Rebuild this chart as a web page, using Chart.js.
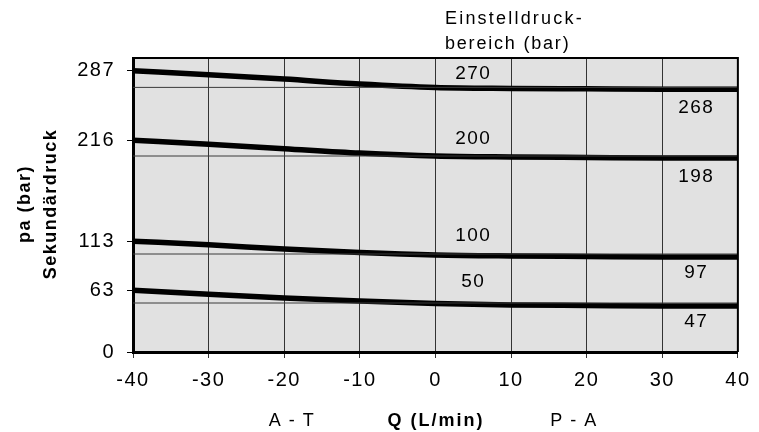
<!DOCTYPE html>
<html>
<head>
<meta charset="utf-8">
<script src="https://cdn.jsdelivr.net/npm/chart.js@4.4.1/dist/chart.umd.min.js"></script>
<style>
  html, body { margin: 0; padding: 0; background: #fff; }
  canvas { display: block; }
</style>
</head>
<body>
<canvas id="chart" width="759" height="432"></canvas>
<script>
const FONT = "'Liberation Sans', Arial, sans-serif";

// Q (L/min)
const flow = [-40, -30, -20, -10, 0, 10, 20, 30, 40];
// secondary pressure pa (bar) per set-pressure range
const curve270 = [287, 283, 278.5, 273.5, 270, 269, 268.5, 268, 268];
const curve200 = [216, 212, 207.5, 203, 200, 199, 198.5, 198, 198];
const curve100 = [113, 109.5, 105, 101.5, 99, 98, 97.5, 97, 97];
const curve50 = [63, 59, 55, 52, 49.5, 48, 47.5, 47, 47];
const setPressure = [270, 200, 100, 50];
const endLabels = ["268", "198", "97", "47"];
const yTicks = [0, 63, 113, 216, 287];

const curves = [curve270, curve200, curve100, curve50];

const toPoints = (ys) => ys.map((y, i) => ({ x: flow[i], y }));

const datasets = [];
setPressure.forEach((p) => {
  datasets.push({
    data: [{ x: flow[0], y: p }, { x: flow[flow.length - 1], y: p }],
    borderColor: "#3a3a3a",
    borderWidth: 1,
    pointRadius: 0,
  });
});
curves.forEach((c) => {
  datasets.push({
    data: toPoints(c),
    borderColor: "#000",
    borderWidth: 5.5,
    pointRadius: 0,
    cubicInterpolationMode: "monotone",
  });
});

// label nudges in px relative to the curve (above at Q=5, below at Q=34.5)
const aboveNudge = [-14, -17, -19, -22];
const belowNudge = [18, 19, 16, 16];

const decorations = {
  id: "decorations",
  beforeDraw(chart) {
    const { ctx, chartArea: a } = chart;
    ctx.letterSpacing = "1.5px";
    ctx.save();
    ctx.fillStyle = "#e1e1e1";
    ctx.fillRect(a.left, a.top, a.right - a.left, a.bottom - a.top);
    ctx.restore();
  },
  afterDraw(chart) {
    const { ctx, chartArea: a, scales } = chart;
    const xs = scales.x, ys = scales.y;
    ctx.save();
    // top and right frame
    ctx.strokeStyle = "#000";
    ctx.lineWidth = 2;
    ctx.beginPath();
    ctx.moveTo(a.left, a.top);
    ctx.lineTo(a.right, a.top);
    ctx.lineTo(a.right, a.bottom);
    ctx.stroke();

    ctx.fillStyle = "#000";
    ctx.font = "19px " + FONT;
    ctx.letterSpacing = "1.5px";
    ctx.textAlign = "center";
    ctx.textBaseline = "middle";
    setPressure.forEach((p, i) => {
      const c = curves[i];
      ctx.fillText(String(p), xs.getPixelForValue(5), ys.getPixelForValue(c[4]) + aboveNudge[i]);
      ctx.fillText(endLabels[i], xs.getPixelForValue(34.5), ys.getPixelForValue(c[c.length - 1]) + belowNudge[i]);
    });

    // range title
    ctx.textAlign = "left";
    ctx.font = "18px " + FONT;
    ctx.letterSpacing = "2.2px";
    ctx.fillText("Einstelldruck-", 445, 19);
    ctx.letterSpacing = "1.8px";
    ctx.fillText("bereich (bar)", 445, 44);

    // x axis captions
    ctx.textAlign = "center";
    ctx.letterSpacing = "1.5px";
    ctx.fillText("A - T", 292, 421);
    ctx.fillText("P - A", 574, 421);
    ctx.font = "bold 18px " + FONT;
    ctx.letterSpacing = "2px";
    ctx.fillText("Q (L/min)", 436, 421);

    // y axis titles
    ctx.font = "bold 18px " + FONT;
    ctx.letterSpacing = "1.5px";
    ctx.translate(25, 204);
    ctx.rotate(-Math.PI / 2);
    ctx.fillText("pa (bar)", 0, 0);
    ctx.rotate(Math.PI / 2);
    ctx.translate(26, 0);
    ctx.rotate(-Math.PI / 2);
    ctx.fillText("Sekundärdruck", 0, 0);
    ctx.restore();
  },
};

new Chart(document.getElementById("chart"), {
  type: "line",
  data: { datasets },
  plugins: [decorations],
  options: {
    responsive: false,
    animation: false,
    parsing: false,
    layout: { padding: { left: 0, top: 58, right: 19, bottom: 0 } },
    plugins: { legend: { display: false }, tooltip: { enabled: false } },
    scales: {
      x: {
        type: "linear",
        min: -40,
        max: 40,
        ticks: { stepSize: 10, color: "#000", font: { family: FONT, size: 20 }, padding: 10 },
        grid: { color: "#333", lineWidth: 1, tickLength: 6, tickColor: "#333" },
        border: { color: "#000", width: 3 },
        afterFit(scale) { scale.height = 80; },
      },
      y: {
        min: 0,
        max: 300,
        afterBuildTicks(scale) { scale.ticks = yTicks.map((v) => ({ value: v })); },
        ticks: { color: "#000", font: { family: FONT, size: 20 }, padding: 12 },
        grid: { drawOnChartArea: false, tickLength: 6, tickColor: "#000" },
        border: { color: "#000", width: 3 },
        afterFit(scale) { scale.width = 133; },
      },
    },
  },
});
</script>
</body>
</html>
